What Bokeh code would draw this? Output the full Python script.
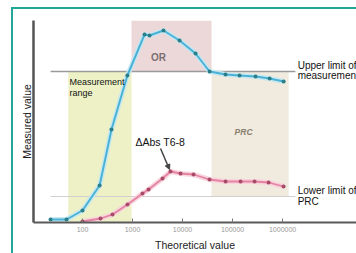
from bokeh.plotting import figure
from bokeh.models import Range1d, Label, Arrow, NormalHead, FixedTicker
from bokeh.embed import file_html
from bokeh.resources import INLINE

# ---- data ----
theoretical_or = [23, 48, 100, 220, 380, 790, 1740, 2190, 4170, 8710, 18200,
                  34700, 72400, 138000, 288000, 550000, 1050000]
measured_or = [3, 3, 12, 37, 93, 147, 188, 187, 192, 182, 169,
               151, 148, 147, 146, 144, 141]

theoretical_abs = [100, 229, 398, 794, 1585, 2089, 3981, 5754, 9120, 16600,
                   34670, 72440, 144500, 275400, 524800, 1047000]
measured_abs = [1, 4, 8, 18, 29, 33, 44, 51, 49, 48,
                43, 41, 41, 41, 40, 36]

tick_values = [100, 1000, 10000, 100000, 1000000]
tick_labels = ["100", "1000", "10000", "100000", "1000000"]

upper_limit = 151
lower_limit = 26
limit_line_span = (23, 1.8e6)
measurement_range = (52, 955)
or_zone = (955, 38000)
prc_zone = (38000, 1.32e6)
y_top = 202

FONT = "Liberation Sans"
teal = "#22a699"

p = figure(width=356, height=253, x_axis_type="log",
           x_range=Range1d(10.5, 3.0e7), y_range=Range1d(0, y_top),
           output_backend="svg", toolbar_location=None,
           min_border_left=33, min_border_right=0, min_border_top=20,
           min_border_bottom=31)
p.outline_line_color = None
p.xgrid.grid_line_color = None
p.ygrid.grid_line_color = None
p.background_fill_color = "white"
p.border_fill_color = None
p.styles = {
    "background-color": "white",
    "background-image": f"linear-gradient({teal},{teal}), linear-gradient({teal},{teal})",
    "background-size": "2px 100%, 100% 2px",
    "background-position": "11px 7px, 11px 7px",
    "background-repeat": "no-repeat",
}

# zones
p.quad(left=[measurement_range[0]], right=[measurement_range[1]], bottom=[0], top=[upper_limit],
       fill_color="#eef1c6", line_color=None)
p.quad(left=[or_zone[0]], right=[or_zone[1]], bottom=[upper_limit], top=[y_top],
       fill_color="#ecd7d9", line_color=None)
p.quad(left=[prc_zone[0]], right=[prc_zone[1]], bottom=[lower_limit], top=[upper_limit],
       fill_color="#f0eadf", line_color=None)

# limit lines
p.segment(x0=[limit_line_span[0]], x1=[limit_line_span[1]], y0=[upper_limit], y1=[upper_limit],
          line_color="#9a9a9a", line_width=1.5)
p.segment(x0=[limit_line_span[0]], x1=[limit_line_span[1]], y0=[lower_limit], y1=[lower_limit],
          line_color="#d0d0d0", line_width=1)

# curves
p.line(theoretical_or, measured_or, line_color="#c4e8f1", line_width=5, line_alpha=0.9)
p.line(theoretical_or, measured_or, line_color="#4ab2d6", line_width=2)
p.scatter(theoretical_or, measured_or, size=4, fill_color="#2b7d88", line_color=None)

p.line(theoretical_abs, measured_abs, line_color="#f7d2dc", line_width=5, line_alpha=0.9)
p.line(theoretical_abs, measured_abs, line_color="#e683a3", line_width=1.8)
p.scatter(theoretical_abs, measured_abs, size=4, fill_color="#a84a68", line_color=None)

# axes
p.xaxis.ticker = FixedTicker(ticks=tick_values)
p.xaxis.major_label_overrides = {v: t for v, t in zip(tick_values, tick_labels)}
p.xaxis.minor_tick_line_color = None
p.xaxis.major_tick_in = 4
p.xaxis.major_tick_out = 0
p.xaxis.major_tick_line_color = "#777777"
p.xaxis.axis_line_color = "#5a5a5a"
p.xaxis.axis_line_width = 2
p.xaxis.major_label_text_font = FONT
p.xaxis.major_label_text_font_size = "7px"
p.xaxis.major_label_text_color = "#999999"
p.xaxis.major_label_standoff = 4
p.xaxis.axis_label = "Theoretical value"
p.xaxis.axis_label_text_font = FONT
p.xaxis.axis_label_text_font_size = "10.5px"
p.xaxis.axis_label_text_font_style = "normal"
p.xaxis.axis_label_text_color = "#222222"
p.xaxis.axis_label_standoff = 4

p.yaxis.ticker = FixedTicker(ticks=[])
p.yaxis.major_label_text_font_size = "0px"
p.yaxis.major_tick_out = 0
p.yaxis.major_tick_in = 0
p.yaxis.minor_tick_line_color = None
p.yaxis.major_label_standoff = 0
p.yaxis.axis_line_color = "#555555"
p.yaxis.axis_line_width = 2.5
p.yaxis.axis_label = "Measured value"
p.yaxis.axis_label_text_font = FONT
p.yaxis.axis_label_text_font_size = "10.5px"
p.yaxis.axis_label_text_font_style = "normal"
p.yaxis.axis_label_text_color = "#222222"
p.yaxis.axis_label_standoff = 1


def label(x, y, text, size="10px", color="#111111", align="left", style="normal"):
    p.add_layout(Label(x=x, y=y, text=text, text_font=FONT, text_font_size=size,
                       text_color=color, text_align=align, text_baseline="middle",
                       text_font_style=style))


label(3300, 165, "OR", size="10px", color="#7a6f70", align="center", style="bold")
label(166000, 91, "PRC", size="8.5px", color="#8a8070", align="center", style="bold italic")
label(55, 141, "Measurement", size="9px")
label(55, 130, "range", size="9px")
label(2.0e6, 157, "Upper limit of")
label(2.0e6, 147, "measurement range")
label(2.0e6, 32, "Lower limit of")
label(2.0e6, 21, "PRC")
label(1148, 81, "ΔAbs T6-8", size="10.5px")

p.add_layout(Arrow(end=NormalHead(size=5, fill_color="#444444", line_color="#444444"),
                   x_start=3630, y_start=74, x_end=5500, y_end=53,
                   line_color="#444444", line_width=1.5))

open("out.html", "w").write(file_html(p, INLINE))
